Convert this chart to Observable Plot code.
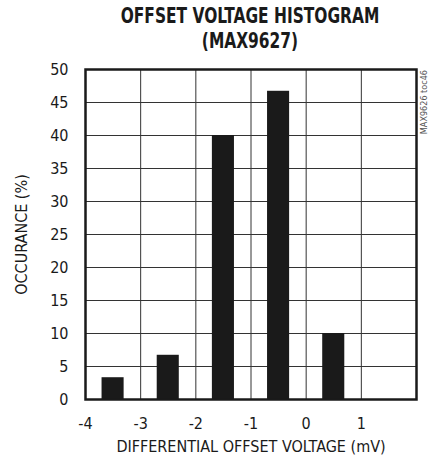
<!DOCTYPE html>
<html>
<head>
<meta charset="utf-8">
<script src="https://cdn.jsdelivr.net/npm/d3@7"></script>
<script src="https://cdn.jsdelivr.net/npm/@observablehq/plot@0.6"></script>
<style>
  html, body { margin: 0; padding: 0; background: #fff; }
  #wrap { position: relative; width: 429px; height: 462px; overflow: hidden; }
  #title { position: absolute; left: 0; width: 500px; top: 3px; text-align: center; white-space: nowrap;
    font-family: "DejaVu Sans", sans-serif; font-stretch: condensed; font-weight: bold;
    font-size: 22px; line-height: 25px; color: #1a1a1a; transform: scaleX(0.78); transform-origin: 50% 0; z-index: 2; }
  #note { position: absolute; left: 424px; top: 70px; transform-origin: 0 0;
    transform: rotate(-90deg) translate(-100%, -50%); white-space: nowrap; line-height: 9px;
    font-family: "DejaVu Sans", sans-serif; font-stretch: condensed; font-size: 9px; color: #555; }
</style>
</head>
<body>
<div id="wrap">
  <div id="title">OFFSET VOLTAGE HISTOGRAM<br>(MAX9627)</div>
  <div id="note">MAX9626 toc46</div>
  <div id="chart"></div>
</div>
<script>
const binCenters = [-3.5, -2.5, -1.5, -0.5, 0.5];
const occurrence = [3.3, 6.7, 40, 46.7, 10];
const xTicks = [-4, -3, -2, -1, 0, 1];
const yTicks = [0, 5, 10, 15, 20, 25, 30, 35, 40, 45, 50];
const xGrid = [-3, -2, -1, 0, 1];
const yGrid = [5, 10, 15, 20, 25, 30, 35, 40, 45];

const data = binCenters.map((c, i) => ({x1: c - 0.2, x2: c + 0.2, y: occurrence[i]}));

const chart = Plot.plot({
  width: 429,
  height: 462,
  marginLeft: 85,
  marginRight: 13,
  marginTop: 69,
  marginBottom: 63,
  style: {fontFamily: "DejaVu Sans, sans-serif", fontStretch: "condensed", fontSize: "16px", color: "#1a1a1a", background: "#fff"},
  x: {domain: [-4, 2], ticks: xTicks, tickSize: 0, tickPadding: 18, tickFormat: d => String(d).replace("−", "-"),
      label: "DIFFERENTIAL OFFSET VOLTAGE (mV)", labelAnchor: "center", labelOffset: 52, labelArrow: "none"},
  y: {domain: [0, 50], ticks: yTicks, tickSize: 0, tickPadding: 17,
      label: "OCCURANCE (%)", labelAnchor: "center", labelOffset: 70, labelArrow: "none"},
  marks: [
    Plot.ruleX(xGrid, {stroke: "#333", strokeWidth: 1}),
    Plot.ruleY(yGrid, {stroke: "#333", strokeWidth: 1}),
    Plot.rectY(data, {x1: "x1", x2: "x2", y: "y", fill: "#1a1a1a"}),
    Plot.frame({stroke: "#1a1a1a", strokeWidth: 2.5})
  ]
});
document.getElementById("chart").appendChild(chart);
</script>
</body>
</html>
